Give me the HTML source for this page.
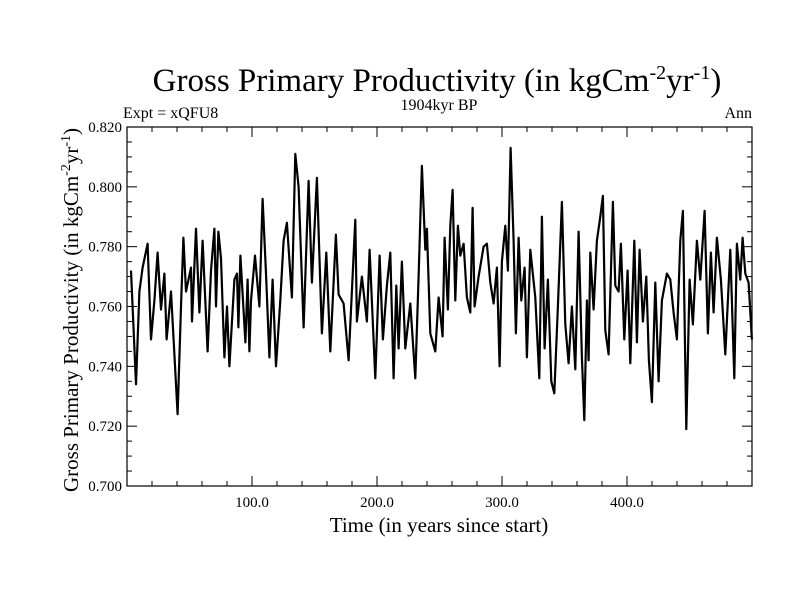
<!DOCTYPE html>
<html><head><meta charset="utf-8"><style>
body{margin:0;background:#fff}
svg text{font-family:"Liberation Serif",serif;fill:#000}
</style></head><body>
<svg id="chart" width="800" height="600" xmlns="http://www.w3.org/2000/svg">
<text x="437" y="91" font-size="33" text-anchor="middle">Gross Primary Productivity (in kgCm<tspan dy="-12" font-size="20">-2</tspan><tspan dy="12">yr</tspan><tspan dy="-12" font-size="20">-1</tspan><tspan dy="12">)</tspan></text>
<text x="123" y="118" font-size="16">Expt = xQFU8</text>
<text x="439" y="110" font-size="16" text-anchor="middle">1904kyr BP</text>
<text x="752" y="118" font-size="16" text-anchor="end">Ann</text>
<text transform="translate(78,310) rotate(-90)" font-size="21" text-anchor="middle">Gross Primary Productivity (in kgCm<tspan dy="-8" font-size="14">-2</tspan><tspan dy="8">yr</tspan><tspan dy="-8" font-size="14">-1</tspan><tspan dy="8">)</tspan></text>
<text x="439" y="532" font-size="21" text-anchor="middle">Time (in years since start)</text>
<g id="axes"></g>
<path id="series" fill="none" stroke="#000" stroke-width="2.2" stroke-linejoin="round"/>
<rect x="127" y="127" width="625" height="359" fill="none" stroke="#000" stroke-width="1.2"/>
</svg>
<script>
const years=[3.2,7.2,9.9,12.5,16.5,19.2,21.9,24.5,27.2,29.9,31.7,35.2,37.9,40.5,43.2,45.1,47.2,51.2,52,55.2,57.9,60.5,64.5,67.2,69.9,71.2,73.1,75.2,77.9,80,81.9,85.9,88,89.1,90.7,94.7,96.5,97.9,99.2,102.4,105.9,108.5,111.2,113.9,116.5,119.2,
122.6,125.3,127.9,131.9,134.6,137.3,141.3,145.3,147.9,151.9,155.9,159.4,162.6,167.1,169.3,173.3,177.3,182.6,183.9,187.9,191.9,194.1,198.6,202.1,204.7,207.9,210.6,213.3,215.4,217.3,219.9,222.6,226.6,230.6,233.3,235.9,238.6,239.9,242.6,
246.6,249.3,252.5,254.1,256.7,258.6,260.5,262.6,264.7,266.6,269.3,271.9,274.6,276.5,278.1,281.3,285.3,287.9,290.6,293.3,295.9,298.1,299.9,302.6,304.7,306.9,309.3,311.1,313.3,315.4,318.1,319.9,322.6,326.6,329.8,331.9,334.1,336.7,339.4,341.8,344.7,347.9,350.6,353.3,355.9,358.6,361.3,363.9,365.8,367.9,369.3,
370.6,373.3,375.9,378.6,380.7,382.6,385.3,388.7,390.6,393.3,395.1,397.8,400.5,402.6,405.8,407.9,410.1,412.7,415.4,417.5,419.9,422.6,425.3,427.9,431.9,434.6,437.3,439.9,442.6,444.7,447.4,450.1,452.7,455.9,458.6,462.1,464.7,467.1,469.3,471.9,475.1,478.6,482.6,485.8,487.9,490.6,492.5,494.6,497.3,499.9];
const gpp=[0.772,0.734,0.765,0.773,0.781,0.749,0.762,0.778,0.759,0.771,0.749,0.765,0.744,0.724,0.760,0.783,0.765,0.773,0.755,0.786,0.758,0.782,0.745,0.772,0.786,0.760,0.785,0.776,0.743,0.760,0.740,0.769,0.771,0.753,0.777,0.748,0.769,0.745,0.762,0.777,0.760,0.796,0.771,0.743,0.769,0.740,
0.762,0.782,0.788,0.763,0.811,0.800,0.753,0.802,0.768,0.803,0.751,0.778,0.745,0.784,0.764,0.761,0.742,0.789,0.755,0.770,0.755,0.779,0.736,0.777,0.749,0.767,0.778,0.736,0.767,0.746,0.775,0.746,0.761,0.736,0.770,0.807,0.779,0.786,0.751,
0.745,0.763,0.750,0.783,0.759,0.787,0.799,0.762,0.787,0.777,0.781,0.763,0.758,0.793,0.760,0.770,0.780,0.781,0.768,0.761,0.773,0.740,0.775,0.787,0.772,0.813,0.782,0.751,0.783,0.762,0.773,0.743,0.779,0.763,0.736,0.790,0.746,0.769,0.735,0.731,0.760,0.795,0.754,0.741,0.760,0.739,0.785,0.743,0.722,0.762,0.742,
0.778,0.759,0.782,0.790,0.797,0.752,0.744,0.795,0.767,0.765,0.781,0.749,0.772,0.741,0.782,0.748,0.779,0.755,0.770,0.742,0.728,0.768,0.735,0.762,0.771,0.769,0.758,0.749,0.782,0.792,0.719,0.769,0.754,0.782,0.769,0.792,0.751,0.778,0.758,0.783,0.769,0.744,0.779,0.736,0.781,0.769,0.783,0.771,0.768,0.749];
const yTicks=["0.700","0.720","0.740","0.760","0.780","0.800","0.820"];
const xTicks=["100.0","200.0","300.0","400.0"];
const L=127,R=752,T=127,B=486,X0=0,X1=500,Y0=0.70,Y1=0.82;
const sx=v=>L+(v-X0)/(X1-X0)*(R-L);
const sy=v=>B-(v-Y0)/(Y1-Y0)*(B-T);
const NS="http://www.w3.org/2000/svg";
const g=document.getElementById('axes');
function ln(x1,y1,x2,y2,name){const l=document.createElementNS(NS,'line');
l.setAttribute('x1',x1);l.setAttribute('y1',y1);l.setAttribute('x2',x2);l.setAttribute('y2',y2);
l.setAttribute('stroke','#000');l.setAttribute('stroke-width','1');


g.appendChild(l);}
function tx(x,y,s,anchor,name){const t=document.createElementNS(NS,'text');
t.setAttribute('x',x);t.setAttribute('y',y);t.setAttribute('font-size','15');t.setAttribute('text-anchor',anchor);t.textContent=s;


g.appendChild(t);}
for(let v=Y0;v<=Y1+1e-9;v+=0.005){const y=sy(v);const major=Math.abs((v-Y0)/0.02-Math.round((v-Y0)/0.02))<1e-6;const len=major?10:5;
ln(L,y,L+len,y,'y-tick');ln(R,y,R-len,y,'y-tick-right');}
yTicks.forEach(s=>tx(L-5,sy(parseFloat(s))+5,s,'end','y-tick-label'));
for(let v=20;v<X1;v+=20){const x=sx(v);const len=(v%100===0)?10:5;ln(x,B,x,B-len,'x-tick');ln(x,T,x,T+len,'x-tick-top');}
xTicks.forEach(s=>tx(sx(parseFloat(s)),B+21,s,'middle','x-tick-label'));
let d='';years.forEach((yr,i)=>{d+=(i?'L':'M')+sx(yr).toFixed(1)+','+sy(gpp[i]).toFixed(1);});
document.getElementById('series').setAttribute('d',d);
</script>
</body></html>
